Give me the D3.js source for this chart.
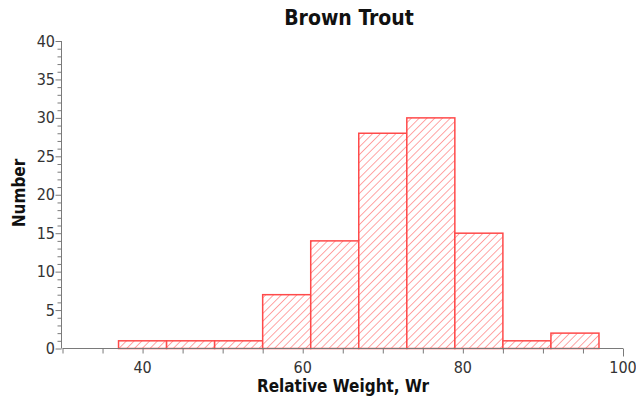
<!DOCTYPE html>
<html><head><meta charset="utf-8">
<script src="https://cdn.jsdelivr.net/npm/d3@7"></script>
<style>body{margin:0;background:#fff}</style>
</head><body>
<svg id="c" width="636" height="399"></svg>
<script>
const binStarts = [37, 43, 49, 55, 61, 67, 73, 79, 85, 91];
const binWidth = 6;
const counts = [1, 1, 1, 7, 14, 28, 30, 15, 1, 2];
const xTickLabels = [40, 60, 80, 100];
const yTickLabels = [0, 5, 10, 15, 20, 25, 30, 35, 40];
const title = "Brown Trout";
const xTitle = "Relative Weight, Wr";
const yTitle = "Number";

const svg = d3.select("#c");
const font = "'DejaVu Sans Condensed','DejaVu Sans',sans-serif";
const x = d3.scaleLinear().domain([30, 100]).range([62.5, 623]);
const y = d3.scaleLinear().domain([0, 40]).range([348.5, 41]);

const defs = svg.append("defs");
const pat = defs.append("pattern").attr("id", "hatch").attr("patternUnits", "userSpaceOnUse")
  .attr("width", 5.5).attr("height", 5.5).attr("patternTransform", "rotate(45)");
pat.append("rect").attr("width", 5.5).attr("height", 5.5).attr("fill", "#fff");
pat.append("line").attr("x1", 0).attr("y1", 0).attr("x2", 0).attr("y2", 5.5)
  .attr("stroke", "#ff6a6a").attr("stroke-width", 1.2);

// bars
svg.append("g").selectAll("rect").data(counts).join("rect")
  .attr("x", (d, i) => x(binStarts[i]))
  .attr("width", (d, i) => x(binStarts[i] + binWidth) - x(binStarts[i]))
  .attr("y", d => y(d))
  .attr("height", d => y(0) - y(d))
  .attr("fill", "url(#hatch)")
  .attr("stroke", "#ff4a4a").attr("stroke-width", 1.5);

const axisColor = "#7a7a7a";
// x axis
const gx = svg.append("g").attr("transform", `translate(0,${y(0)})`);
gx.call(d3.axisBottom(x).tickValues(d3.range(30, 101, 5)).tickSize(5).tickFormat(""));
gx.select(".domain").attr("stroke", axisColor).attr("d", `M${x(30)},0H${x(100)}`);
gx.selectAll(".tick line").attr("stroke", axisColor);
gx.selectAll(".tick").filter(d => d === 100).select("line").attr("y2", 8);
svg.append("g").selectAll("text").data(xTickLabels).join("text")
  .attr("x", d => x(d)).attr("y", 373).attr("text-anchor", "middle")
  .attr("font-family", font).attr("font-size", 16).attr("fill", "#333")
  .text(d => d);

// y axis
const gy = svg.append("g").attr("transform", `translate(${x(30) - 1},0)`);
gy.call(d3.axisLeft(y).tickValues(d3.range(0, 41, 1)).tickSize(4).tickFormat(""));
gy.select(".domain").attr("stroke", axisColor).attr("d", `M0,${y(40)}V${y(0)}`);
gy.selectAll(".tick line").attr("stroke", axisColor)
  .attr("x2", d => d % 5 === 0 ? -6 : -4);
svg.append("g").selectAll("text").data(yTickLabels).join("text")
  .attr("x", 55).attr("y", d => y(d) + 5.5).attr("text-anchor", "end")
  .attr("font-family", font).attr("font-size", 16).attr("fill", "#333")
  .text(d => d);

// titles
svg.append("text").attr("x", 349).attr("y", 25).attr("text-anchor", "middle")
  .attr("font-family", font).attr("font-weight", "bold").attr("font-size", 21).attr("fill", "#111")
  .text(title);
svg.append("text").attr("x", 343).attr("y", 392).attr("text-anchor", "middle")
  .attr("font-family", font).attr("font-weight", "bold").attr("font-size", 17).attr("fill", "#111")
  .text(xTitle);
svg.append("text").attr("transform", "translate(25,193) rotate(-90)").attr("text-anchor", "middle")
  .attr("font-family", font).attr("font-weight", "bold").attr("font-size", 17).attr("fill", "#111")
  .text(yTitle);
</script>
</body></html>
